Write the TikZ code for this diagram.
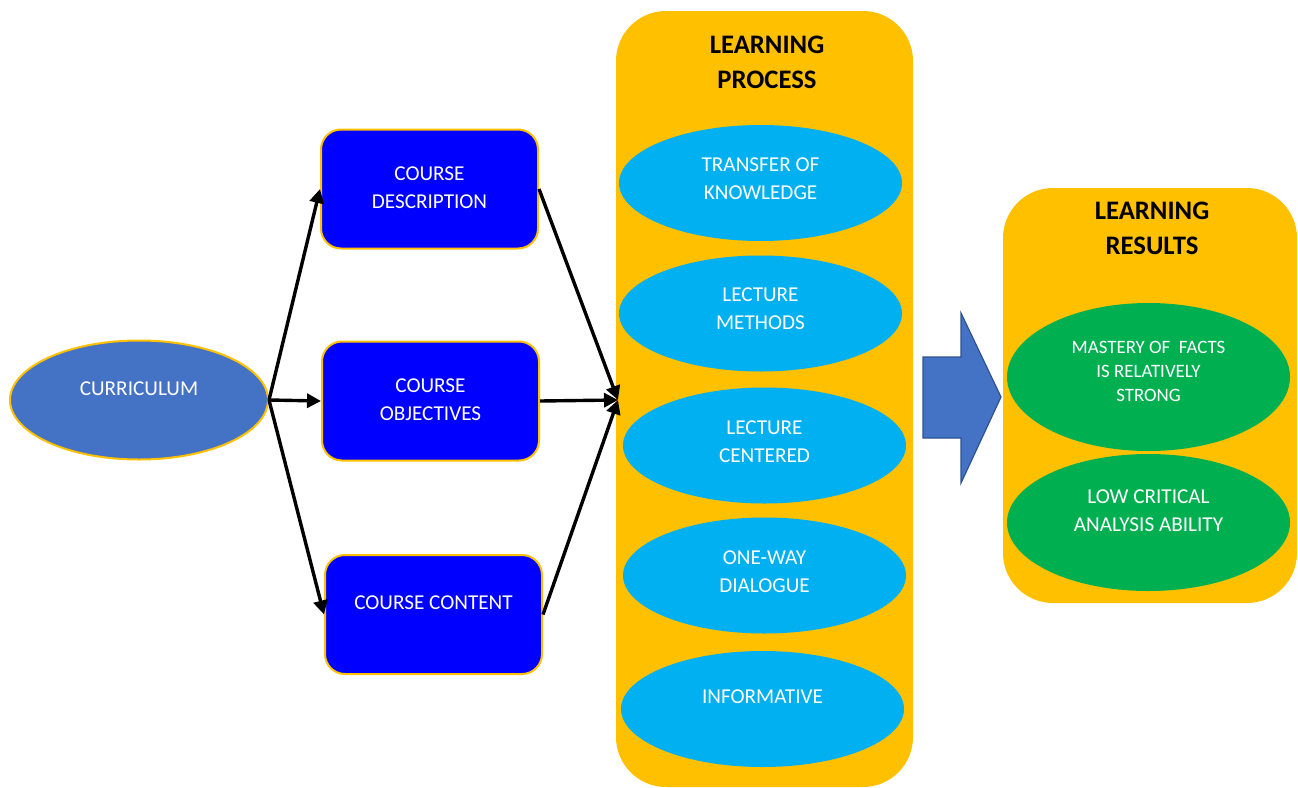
\documentclass[tikz,border=0pt]{standalone}
\usepackage{fontspec}
\setmainfont{Carlito}
\usetikzlibrary{shapes.geometric,arrows.meta}
\definecolor{gold}{HTML}{FFC000}
\definecolor{pureblue}{HTML}{0000FF}
\definecolor{steel}{HTML}{4472C4}
\definecolor{steeldark}{HTML}{2F528F}
\definecolor{sky}{HTML}{00B0F0}
\definecolor{leaf}{HTML}{00B050}
\tikzset{
  box/.style={draw=gold, line width=2pt, fill=pureblue, rounded corners=20pt,
    minimum width=217pt, minimum height=119pt, inner sep=0pt},
  panel/.style={fill=gold, rounded corners=50pt, inner sep=0pt},
  skyell/.style={ellipse, fill=sky, minimum width=283pt, minimum height=116pt, inner sep=0pt},
  leafell/.style={ellipse, fill=leaf, minimum width=283pt, inner sep=0pt},
  txt/.style={text=white, align=center, font=\fontsize{21.2}{28}\selectfont, inner sep=0pt},
  smalltxt/.style={text=white, align=center, font=\fontsize{18.9}{24}\selectfont, inner sep=0pt},
  title/.style={text=black, align=center, font=\fontsize{26.7}{35}\selectfont\bfseries, inner sep=0pt},
  conn/.style={line width=3.4pt, -{Triangle[length=14pt,width=14pt]}},
}
\begin{document}
\begin{tikzpicture}[x=1pt,y=-1pt]
\useasboundingbox (0,0) rectangle (1298,787);

% panels
\node[panel, minimum width=297pt, minimum height=776pt] (lp) at (764.5,399) {};
\node[panel, minimum width=294pt, minimum height=415pt] (lr) at (1150,395.5) {};

\node[title] (lpt) at (767,62.5) {LEARNING\\PROCESS};
\node[title] (lrt) at (1152,228) {LEARNING\\RESULTS};

% curriculum
\node[ellipse, draw=gold, line width=2pt, fill=steel, minimum width=258pt, minimum height=119pt, inner sep=0pt] (cur) at (139,400) {};
\node[txt] (curt) at (139,389) {CURRICULUM};

% course boxes
\node[box] (cd) at (429.5,189) {};
\node[txt] (cdt) at (429.5,188) {COURSE\\DESCRIPTION};
\node[box] (co) at (430.5,401) {};
\node[txt] (cot) at (430.5,400) {COURSE\\OBJECTIVES};
\node[box] (cc) at (433.5,614.5) {};
\node[txt] (cct) at (433.5,603) {COURSE CONTENT};

% process ellipses
\node[skyell] (e1) at (760.5,183) {};
\node[txt] (e1t) at (760.5,179) {TRANSFER OF\\KNOWLEDGE};
\node[skyell] (e2) at (760.5,313.5) {};
\node[txt] (e2t) at (760.5,309) {LECTURE\\METHODS};
\node[skyell] (e3) at (764.5,445.5) {};
\node[txt] (e3t) at (764.5,441.5) {LECTURE\\CENTERED};
\node[skyell] (e4) at (764.5,575.5) {};
\node[txt] (e4t) at (764.5,572) {ONE-WAY\\DIALOGUE};
\node[skyell] (e5) at (762.5,709) {};
\node[txt] (e5t) at (762.5,697) {INFORMATIVE};

% results ellipses
\node[leafell, minimum height=148pt] (g1) at (1148.5,377) {};
\node[smalltxt] (g1t) at (1148.5,371) {MASTERY OF\ \ FACTS\\IS RELATIVELY\\STRONG};
\node[leafell, minimum height=137pt] (g2) at (1148.5,522.5) {};
\node[txt] (g2t) at (1148.5,511) {LOW CRITICAL\\ANALYSIS ABILITY};

% block arrow
\draw[fill=steel, draw=steeldark, line width=1.2pt, line join=miter]
  (923,357) -- (961,357) -- (961,313) -- (1001,397) -- (961,483) -- (961,438) -- (923,438) -- cycle;

% connectors
\coordinate (lpin) at (618,400);
\draw[conn] (cur.east) -- (cd.west);
\draw[conn] (cur.east) -- (co.west);
\draw[conn] (cur.east) -- (cc.west);
\draw[conn] (cd.east) -- (lpin);
\draw[conn] (co.east) -- (lpin);
\draw[conn] (cc.east) -- (lpin);
\end{tikzpicture}
\end{document}
